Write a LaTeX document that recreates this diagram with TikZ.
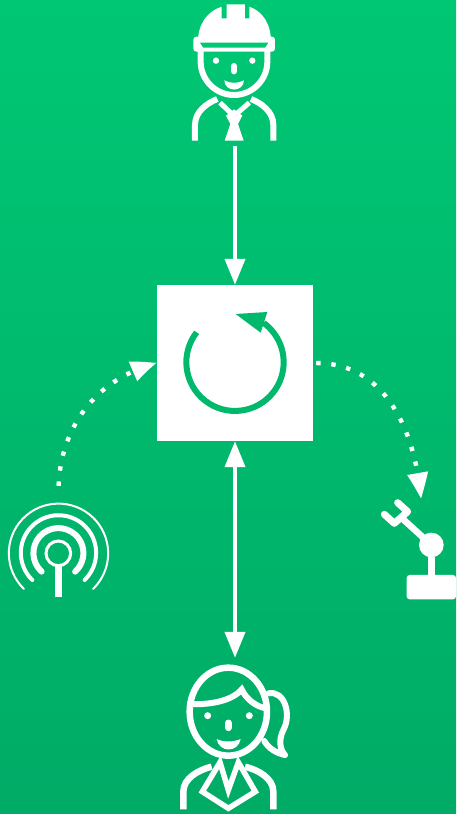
\documentclass[tikz,border=0pt]{standalone}
\usepackage{tikz}
\usetikzlibrary{arrows.meta, bending}
\usepackage{xcolor}
\definecolor{leaftop}{HTML}{00C774}
\definecolor{leafbot}{HTML}{00AB66}
\definecolor{leafmid}{HTML}{00B96C}

\begin{document}
\begin{tikzpicture}[
  x=1pt, y=-1pt,
  hub/.style={fill=white, minimum size=156pt, inner sep=0pt},
  icon/.style={inner sep=0pt},
  link/.style={-{Triangle[length=26pt, width=20pt]}, line width=4pt, white},
  twolink/.style={{Triangle[length=26pt, width=20pt]}-{Triangle[length=26pt, width=20pt]}, line width=4pt, white},
  datalink/.style={-{Triangle[length=26pt, width=20pt, bend]}, line width=4.4pt, white, dash pattern=on 4.4pt off 10.8pt},
  zoomed/.style={x=0.3333pt, y=-0.3333pt, white, line width=6pt}
]
  \useasboundingbox (0,0) rectangle (456,814);
  \shade[top color=leaftop, bottom color=leafbot] (0,0) rectangle (456,814);

  \node[hub] (hub) at (235,363) {};
  \node[icon, minimum width=82pt, minimum height=136pt] (worker) at (235,73) {};
  \node[icon, minimum width=110pt, minimum height=145pt] (office) at (235,737.5) {};
  \node[icon, minimum width=102pt, minimum height=94pt] (sensor) at (58,550) {};
  \node[icon, minimum width=70pt, minimum height=104pt] (robot) at (421,551) {};

  \draw[link, shorten <=5pt] (worker) -- (hub);
  \draw[twolink, shorten >=7pt] (hub) -- (office);
  \draw[datalink, shorten <=17pt] (sensor.north) to[out=88, in=195, looseness=1.05] (hub.west);
  \draw[datalink, shorten <=3pt] (hub.east) to[out=0, in=95, looseness=1.05] (robot.north);

  \begin{scope}[shift={(150,280)}, zoomed]
    \draw[leafmid, line width=6pt] (140,157) arc[start angle=218, end angle=-54, radius=146];
    \fill[leafmid] (257,102) -- (352,96) -- (332,158) -- cycle;
  \end{scope}

  \begin{scope}[shift={(170,0)}, zoomed]
    \fill (84,125) .. controls (84,72) and (112,34) .. (155,20) -- (155,55) -- (170,55) -- (170,13)
      -- (225,13) -- (225,55) -- (238,55) -- (238,20) .. controls (278,34) and (303,72) .. (303,125) -- cycle;
    \fill[rounded corners=3pt] (70,110) rectangle (315,155);
    \fill[leaftop] (90,128) -- (295,128) -- (285,143) -- (100,143) -- cycle;
    \draw (92,150) -- (92,185) .. controls (92,240) and (137,285) .. (192,285)
      .. controls (247,285) and (292,240) .. (292,185) -- (292,150);
    \fill (138,182) circle (9.5);
    \fill (247,182) circle (9.5);
    \draw[line width=6pt, line cap=round] (192,198) -- (192,214);
    \fill (163,241) .. controls (180,251) and (205,251) .. (222,241)
      .. controls (220,278) and (165,278) .. (163,241) -- cycle;
    \draw (75,422) -- (75,375) .. controls (75,335) and (110,310) .. (142,297);
    \draw (310,422) -- (310,375) .. controls (310,335) and (275,310) .. (243,297);
    \draw[line width=5pt] (150,308) -- (192,348) -- (238,308);
    \fill (168,347) -- (192,328) -- (217,347) -- (204,372) -- (221,422) -- (164,422) -- (181,372) -- cycle;
  \end{scope}

  \begin{scope}[shift={(170,655)}, zoomed]
    \draw[line width=6.5pt] (175,170) ellipse (116 and 132);
    \draw[line width=6pt] (65,147) .. controls (125,150) and (190,135) .. (215,103)
      .. controls (230,135) and (260,155) .. (288,160);
    \fill (113,182) circle (10.5);
    \fill (238,182) circle (10.5);
    \draw[line width=7pt, line cap=round] (175,204) -- (175,218);
    \fill (140,252) .. controls (160,262) and (190,262) .. (212,252)
      .. controls (205,294) and (147,294) .. (140,252) -- cycle;
    \draw[line join=round, line cap=round] (295,115) .. controls (345,105) and (365,180) .. (340,225)
      .. controls (325,255) and (330,285) .. (345,300) .. controls (320,295) and (295,280) .. (283,258);
    \draw[line width=6.5pt] (40,463) -- (40,410) .. controls (40,370) and (85,345) .. (125,335);
    \draw[line width=6.5pt] (310,463) -- (310,410) .. controls (310,370) and (265,345) .. (225,335);
    \draw[line width=5.5pt, line join=miter] (150,322) -- (97,410) -- (175,460) -- (256,410) -- (205,322) -- (175,405) -- cycle;
  \end{scope}

  \begin{scope}[shift={(0,490)}, zoomed]
    \draw[line width=3pt] (175,190) circle (37);
    \draw[line width=7pt] (175,228) -- (175,320);
    \draw[line width=6pt, line cap=round] (125,245) arc[start angle=132, end angle=408, radius=75];
    \draw[line width=4pt, line cap=round] (97,270) arc[start angle=134, end angle=406, radius=113];
    \draw[line width=2pt, line cap=round] (72,297) arc[start angle=134, end angle=406, radius=149];
  \end{scope}

  \begin{scope}[shift={(366,480)}, zoomed]
    \fill[rounded corners=3pt] (122,285) rectangle (270,358);
    \fill (185,230) rectangle (207,290);
    \fill (196,195) circle (37);
    \draw[line width=6.5pt] (196,195) -- (105,112);
    \draw[line width=7pt, line cap=round, line join=round] (95,68) -- (125,95) -- (85,130) -- (55,103);
  \end{scope}
\end{tikzpicture}
\end{document}
